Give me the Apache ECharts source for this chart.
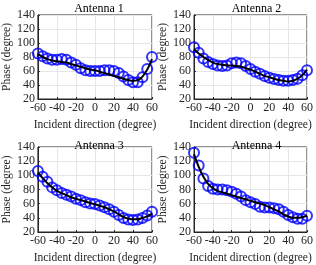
<!DOCTYPE html>
<html><head><meta charset="utf-8">
<script src="https://cdn.jsdelivr.net/npm/echarts@6/dist/echarts.min.js"></script>
<style>html,body{margin:0;padding:0;background:#fff}#c{width:316px;height:265px}</style>
</head><body><div id="c"></div>
<script>
const angles = [-60,-55,-50,-45,-40,-35,-30,-25,-20,-15,-10,-5,0,5,10,15,20,25,30,35,40,45,50,55,60];
const titles = ['Antenna 1','Antenna 2','Antenna 3','Antenna 4'];
const yTicks = [20,40,60,80,100,120,140];
const xTicks = [-60,-40,-20,0,20,40,60];
const meas1 = [85,81,78,76,76,77,76,72,69,64,61,60,60,60,61,61,60,57,52,47,44,44,51,63,80];
const fit1  = [84,80,77,75,74,73,72,70,68,66,64,62,61,59,57,55,53,51,49,47,46,47,52,62,77];
const meas2 = [94,86,78,73,70,68,67,68,71,72,71,67,63,59,56,53,50.5,48.6,47,46,46,47,49,54,61];
const fit2  = [91,85,80,76,72,70,69,68,68,67,66,64,62,59,56,53,51,49,47,46,45,46,49,54,62];
const meas3 = [106,98,91,83,79,75,72.5,70,67,65,62,60.3,59.4,57.5,55,52,48.6,44,39.7,37.8,37,37.8,39.7,43.4,48.6];
const fit3  = [104,96,89,83,78,75,72,69,67,65,63,61,59,57,55,52,49,45,41,39,38,38,40,42,46];
const meas4 = [132,114,95.5,85,81,80,80,79,77,74,70,65,62,59.4,55.6,54.7,54.7,53.7,52,48.6,44,40.7,38.7,38.7,43];
const fit4  = [130,112,98,88,82,78,76,74,72,70,68,66,64,62,60,58,55,52,49,45,42,40,40,41,43];
const measured = [meas1,meas2,meas3,meas4];
const fitted = [fit1,fit2,fit3,fit4];

const font = '"Liberation Serif", "DejaVu Serif", serif';
const grids = [
  {left:36, top:15, width:116, height:84},
  {left:194, top:15, width:115, height:84},
  {left:36, top:147, width:116, height:85},
  {left:194, top:147, width:115, height:85}
];
const titleTops = [-2, -2, 135, 135];
const opt = {animation:false, title:[], grid:[], xAxis:[], yAxis:[], series:[]};
grids.forEach((g,i)=>{
  opt.grid.push(Object.assign({show:true, borderColor:'#262626', borderWidth:1, backgroundColor:'#fff'}, g));
  opt.title.push({text:titles[i], left:g.left+g.width/2, top:titleTops[i], textAlign:'center',
    textStyle:{fontFamily:font, fontSize:12, fontWeight:'normal', color:'#000'}});
  opt.xAxis.push({type:'value', gridIndex:i, min:-60, max:60, interval:20,
    name:'Incident direction (degree)', nameLocation:'middle', nameGap:20,
    nameTextStyle:{fontFamily:font, fontSize:11.5, color:'#262626'},
    axisLine:{show:true, onZero:false, lineStyle:{color:'#262626'}},
    axisTick:{show:true, inside:true, length:2, lineStyle:{color:'#262626'}},
    axisLabel:{fontFamily:font, fontSize:12, color:'#262626', margin:3,
      formatter:v=>xTicks.includes(v)?String(v):''},
    splitLine:{show:true, lineStyle:{color:'#e6e6e6'}}});
  opt.yAxis.push({type:'value', gridIndex:i, min:20, max:140, interval:20,
    name:'Phase (degree)', nameLocation:'middle', nameGap:23,
    nameTextStyle:{fontFamily:font, fontSize:11.5, color:'#262626'},
    axisLine:{show:true, onZero:false, lineStyle:{color:'#262626'}},
    axisTick:{show:true, inside:true, length:2, lineStyle:{color:'#262626'}},
    axisLabel:{fontFamily:font, fontSize:12, color:'#262626', margin:3,
      formatter:v=>yTicks.includes(v)?String(v):''},
    splitLine:{show:true, lineStyle:{color:'#e6e6e6'}}});
  opt.series.push({type:'scatter', xAxisIndex:i, yAxisIndex:i, symbol:'circle', symbolSize:10,
    itemStyle:{color:'rgba(0,0,0,0)', borderColor:'#0000ff', borderWidth:2},
    data:angles.map((a,k)=>[a,measured[i][k]]), z:2});
  opt.series.push({type:'line', xAxisIndex:i, yAxisIndex:i, smooth:0.4, showSymbol:false,
    lineStyle:{color:'#000', width:2}, data:angles.map((a,k)=>[a,fitted[i][k]]), z:3});
});
const chart = echarts.init(document.getElementById('c'), null, {renderer:'canvas'});
chart.setOption(opt);
</script></body></html>
